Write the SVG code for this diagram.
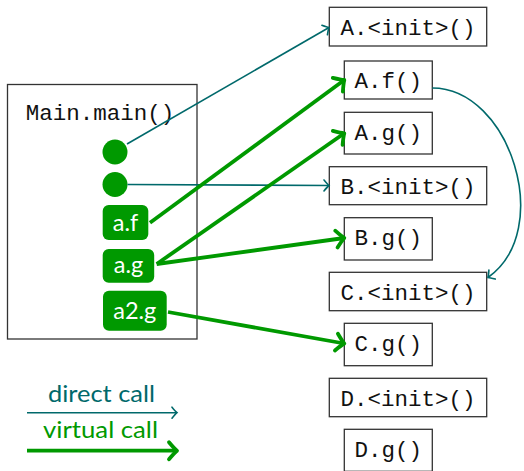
<svg xmlns="http://www.w3.org/2000/svg" width="524" height="471" viewBox="0 0 524 471">
<style>
.box{fill:#fff;stroke:#333;stroke-width:1.3}
.mono{font-family:"Liberation Mono","DejaVu Sans Mono",monospace;font-size:22.5px;fill:#111;text-anchor:middle}
.lab{font-family:"Lato","Liberation Sans",sans-serif;font-size:23.5px;fill:#fff;text-anchor:middle}
.leg{font-family:"Lato","Liberation Sans",sans-serif;font-size:24px;text-anchor:middle}
.pill{fill:#009900}
.direct{fill:none;stroke:#00696b;stroke-width:1.6}
.virtual{fill:none;stroke:#009900;stroke-width:3.8}
</style>
<defs>
<marker id="ad" markerUnits="userSpaceOnUse" viewBox="-8 -7 10 14" markerWidth="10" markerHeight="14" refX="0" refY="0" orient="auto" overflow="visible">
<path d="M-5,-5.5 Q-1.5,-1.2 0,0 Q-1.5,1.2 -5,5.5" fill="none" stroke="#00696b" stroke-width="1.6" stroke-linecap="round"/>
</marker>
<marker id="av" markerUnits="userSpaceOnUse" viewBox="-12 -10 14 20" markerWidth="14" markerHeight="20" refX="0" refY="0" orient="auto" overflow="visible">
<path d="M-8,-8.5 Q-2.5,-2 0,0 Q-2.5,2 -8,8.5" fill="none" stroke="#009900" stroke-width="3.8" stroke-linecap="round" stroke-linejoin="round"/>
</marker>
</defs>

<g id="main">
<rect class="box" x="7.5" y="84.5" width="189.5" height="254.5"/>
<text class="mono" x="100" y="120">Main.main()</text>
</g>
<g id="call1"><circle class="pill" cx="115" cy="152" r="12.5"/></g>
<g id="call2"><circle class="pill" cx="115" cy="184.5" r="12.5"/></g>
<g id="af"><rect class="pill" x="102.7" y="205" width="45.6" height="35" rx="6"/><text class="lab" x="125.5" y="231">a.f</text></g>
<g id="ag"><rect class="pill" x="102.7" y="249" width="51.5" height="33.7" rx="6"/><text class="lab" x="128.5" y="272.5">a.g</text></g>
<g id="a2g"><rect class="pill" x="103" y="290.7" width="63.7" height="40" rx="6"/><text class="lab" x="134.8" y="318.5">a2.g</text></g>

<g id="A_init"><rect class="box" x="329.3" y="7.3" width="157.4" height="38.7"/><text class="mono" x="408" y="35">A.&lt;init&gt;()</text></g>
<g id="A_f"><rect class="box" x="344.3" y="61" width="88" height="38"/><text class="mono" x="388.3" y="88">A.f()</text></g>
<g id="A_g"><rect class="box" x="344.3" y="112.3" width="88" height="41.7"/><text class="mono" x="388.3" y="140">A.g()</text></g>
<g id="B_init"><rect class="box" x="329.3" y="166.7" width="157.4" height="38"/><text class="mono" x="408" y="194">B.&lt;init&gt;()</text></g>
<g id="B_g"><rect class="box" x="344.3" y="217.7" width="88" height="42.3"/><text class="mono" x="388.3" y="245">B.g()</text></g>
<g id="C_init"><rect class="box" x="329.3" y="272.3" width="157.4" height="38.4"/><text class="mono" x="408" y="300">C.&lt;init&gt;()</text></g>
<g id="C_g"><rect class="box" x="344.3" y="323.3" width="88" height="42.4"/><text class="mono" x="388.3" y="350.7">C.g()</text></g>
<g id="D_init"><rect class="box" x="329.3" y="378.3" width="157.4" height="38.4"/><text class="mono" x="408" y="405.7">D.&lt;init&gt;()</text></g>
<g id="D_g"><rect class="box" x="344.3" y="429.3" width="88" height="42"/><text class="mono" x="388.3" y="456.7">D.g()</text></g>

<g id="connectors">
<path class="direct" d="M127,144 L329,27.5" marker-end="url(#ad)"/>
<path class="direct" d="M127.5,184.5 L329,185.5" marker-end="url(#ad)"/>
<path class="direct" d="M432.3,88 C510,88 555,230 488,277.5" marker-end="url(#ad)"/>
<path class="virtual" d="M150,222.7 L344.3,80" marker-end="url(#av)"/>
<path class="virtual" d="M156.7,264 L344.3,133.3" marker-end="url(#av)"/>
<path class="virtual" d="M156.7,264 L344.3,238" marker-end="url(#av)"/>
<path class="virtual" d="M168,312 L344.3,343.5" marker-end="url(#av)"/>
</g>

<g id="legend">
<text class="leg" x="101.5" y="401.7" fill="#00696b" textLength="107" lengthAdjust="spacingAndGlyphs">direct call</text>
<path class="direct" d="M27,412.7 L177,412.7" marker-end="url(#ad)"/>
<text class="leg" x="100.5" y="438.3" fill="#009900" textLength="115" lengthAdjust="spacingAndGlyphs">virtual call</text>
<path class="virtual" d="M27,450.7 L177,450.7" marker-end="url(#av)"/>
</g>
</svg>
